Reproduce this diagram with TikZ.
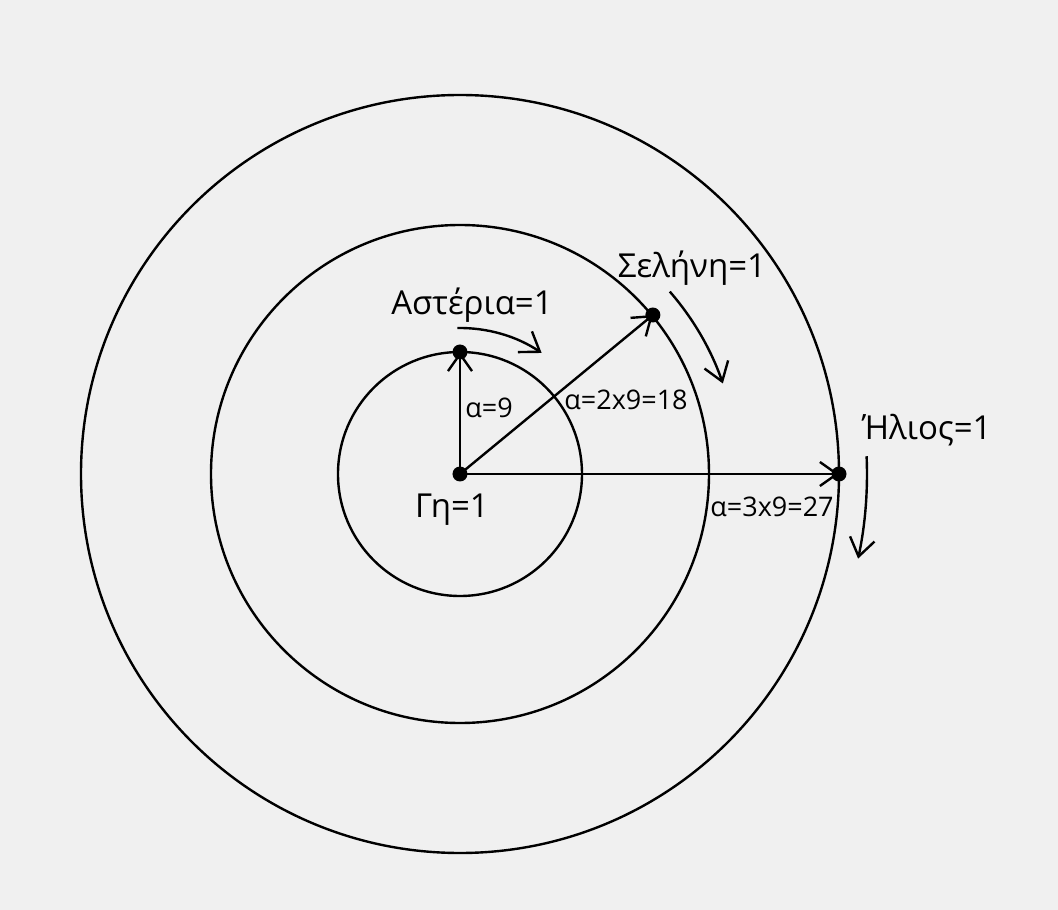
\documentclass[tikz,border=0pt]{standalone}
\usepackage{fontspec}
\setmainfont{Open Sans}
\usetikzlibrary{arrows.meta}
\definecolor{bg}{RGB}{240,240,240}
\begin{document}
\begin{tikzpicture}[x=1pt,y=1pt,
  orbit/.style={line width=2.4pt,draw=black},
  ray/.style={line width=2.4pt,-{Straight Barb[length=17pt,width=24pt,line width=2.4pt]}},
  turn/.style={line width=2.4pt,-{Straight Barb[length=18pt,width=25pt,line width=2.4pt]}},
  dotnode/.style={circle,fill=black,inner sep=0pt,minimum size=15pt},
  big/.style={font=\fontsize{33}{37}\selectfont,inner sep=0pt},
  small/.style={font=\fontsize{27}{30}\selectfont,inner sep=0pt}]
\fill[bg] (-460,-436) rectangle (598,474);
\useasboundingbox (-460,-436) rectangle (598,474);
\coordinate (C) at (0,0);
\draw[orbit] (C) circle[radius=122];
\draw[orbit] (C) circle[radius=249];
\draw[orbit] (C) circle[radius=379];
\coordinate (A) at (90:122);
\coordinate (S) at (39.5:250);
\coordinate (H) at (0:379);
\draw[ray] (C) -- (A);
\draw[ray] (C) -- (S);
\draw[ray] (C) -- (H);
\node[dotnode] (c0) at (C) {};
\node[dotnode] (a0) at (A) {};
\node[dotnode] (s0) at (S) {};
\node[dotnode] (h0) at (H) {};
\draw[turn] (91:146) arc[start angle=91,end angle=56,radius=146];
\draw[turn] (41:278) arc[start angle=41,end angle=19,radius=278];
\draw[turn] (2.5:407) arc[start angle=2.5,end angle=-12,radius=407];
\node[big] (ta) at (12,169) {Αστέρια=1};
\node[big] (ts) at (232,206) {Σελήνη=1};
\node[big] (th) at (467,44) {Ήλιος=1};
\node[big] (tg) at (-8,-36) {Γη=1};
\node[small] (la) at (29,66) {α=9};
\node[small] (ls) at (166,74) {α=2x9=18};
\node[small] (lh) at (312,-33) {α=3x9=27};
\end{tikzpicture}
\end{document}
